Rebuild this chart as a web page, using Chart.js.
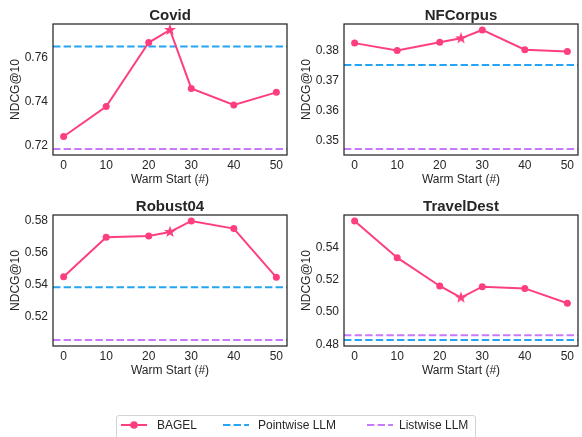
<!DOCTYPE html>
<html>
<head>
<meta charset="utf-8">
<script src="https://cdn.jsdelivr.net/npm/chart.js@4.4.1/dist/chart.umd.min.js"></script>
<style>
  html, body { margin: 0; padding: 0; background: #fff; }
  #wrap { position: relative; width: 582px; height: 437px; overflow: hidden;
          font-family: "Liberation Sans", Arial, sans-serif; color: #262626; }
  canvas { position: absolute; }
  #legendBox { position: absolute; left: 116px; top: 415px; width: 360px; height: 30px;
               border: 1px solid #d4d4d4; border-radius: 3px; box-sizing: border-box; }
  .lg { position: absolute; font-size: 12px; line-height: 14px; top: 418px; white-space: nowrap; color: #262626; }
</style>
</head>
<body>
<div id="wrap">
  <canvas id="c0" width="291" height="190" style="left:0;top:0"></canvas>
  <canvas id="c1" width="291" height="190" style="left:291px;top:0"></canvas>
  <canvas id="c2" width="291" height="191" style="left:0;top:191px"></canvas>
  <canvas id="c3" width="291" height="191" style="left:291px;top:191px"></canvas>
  <div id="legendBox"></div>
  <canvas id="lgc" width="582" height="40" style="left:0;top:405px"></canvas>
  <span class="lg" style="left:157px">BAGEL</span>
  <span class="lg" style="left:258px">Pointwise LLM</span>
  <span class="lg" style="left:399px">Listwise LLM</span>
</div>
<script>
// Warm-start sizes tried for BAGEL; index 3 (25) is the selected setting.
const warmStart = [0, 10, 20, 25, 30, 40, 50];
const xTicks = [0, 10, 20, 30, 40, 50];
const bestIndex = 3;

const datasetNames = ['Covid', 'NFCorpus', 'Robust04', 'TravelDest'];

// NDCG@10 of BAGEL per warm-start size
const bagelCovid      = [0.7242, 0.7378, 0.7668, 0.7725, 0.7460, 0.7385, 0.7442];
const bagelNFCorpus   = [0.3826, 0.3801, 0.3829, 0.3842, 0.3870, 0.3804, 0.3798];
const bagelRobust04   = [0.5450, 0.5698, 0.5706, 0.5731, 0.5800, 0.5752, 0.5446];
const bagelTravelDest = [0.5563, 0.5336, 0.5161, 0.5089, 0.5157, 0.5146, 0.5054];

// Baselines (constant across warm-start sizes)
const pointwiseLLM = [0.7650, 0.3753, 0.5383, 0.4827];
const listwiseLLM  = [0.7185, 0.3472, 0.5052, 0.4856];

// y tick values per panel
const yTicksCovid      = [0.72, 0.74, 0.76];
const yTicksNFCorpus   = [0.35, 0.36, 0.37, 0.38];
const yTicksRobust04   = [0.52, 0.54, 0.56, 0.58];
const yTicksTravelDest = [0.48, 0.50, 0.52, 0.54];

const bagelSeries = [bagelCovid, bagelNFCorpus, bagelRobust04, bagelTravelDest];
const yTickSets = [yTicksCovid, yTicksNFCorpus, yTicksRobust04, yTicksTravelDest];

const PINK = '#fd3f80';
const BLUE = '#24a4f2';
const PURPLE = '#c878fb';
const INK = '#262626';
const FONT = '"Liberation Sans", Arial, sans-serif';
const X_MIN = -2.5, X_MAX = 52.5;

// filled five-pointed star used for the selected warm-start point
function makeStar(size, rOuter, rInner, color) {
  const c = document.createElement('canvas');
  c.width = size; c.height = size;
  const g = c.getContext('2d');
  g.beginPath();
  for (let k = 0; k < 10; k++) {
    const r = k % 2 === 0 ? rOuter : rInner;
    const a = -Math.PI / 2 + k * Math.PI / 5;
    const px = size / 2 + r * Math.cos(a), py = size / 2 + r * Math.sin(a);
    if (k === 0) g.moveTo(px, py); else g.lineTo(px, py);
  }
  g.closePath();
  g.fillStyle = color;
  g.fill();
  return c;
}
const starImg = makeStar(16, 6.3, 2.6, PINK);

// frame, panel title and axis titles
const framePlugin = {
  id: 'frame',
  afterDraw(chart, args, opts) {
    const { ctx, chartArea: a } = chart;
    ctx.save();
    ctx.strokeStyle = INK;
    ctx.lineWidth = 1.25;
    ctx.strokeRect(a.left, a.top, a.right - a.left, a.bottom - a.top);
    ctx.fillStyle = INK;
    ctx.textAlign = 'center';
    ctx.textBaseline = 'alphabetic';
    ctx.font = 'bold 15px ' + FONT;
    ctx.fillText(opts.title, (a.left + a.right) / 2, a.top - 4);
    ctx.font = '12px ' + FONT;
    ctx.textBaseline = 'middle';
    ctx.fillText('Warm Start (#)', (a.left + a.right) / 2, a.bottom + 25);
    ctx.translate(16, (a.top + a.bottom) / 2);
    ctx.rotate(-Math.PI / 2);
    ctx.fillText('NDCG@10', 0, 0);
    ctx.restore();
  }
};

function hline(value, color, label) {
  return {
    label,
    data: [{ x: X_MIN, y: value }, { x: X_MAX, y: value }],
    borderColor: color,
    borderWidth: 2,
    borderDash: [7.4, 3.2],
    pointRadius: 0,
    fill: false,
    order: 2
  };
}

datasetNames.forEach((name, i) => {
  const vals = bagelSeries[i];
  const all = vals.concat([pointwiseLLM[i], listwiseLLM[i]]);
  const lo = Math.min(...all), hi = Math.max(...all);
  const pad = (hi - lo) * 0.05;
  const ticks = yTickSets[i];
  const canvasH = i < 2 ? 190 : 191;

  new Chart(document.getElementById('c' + i), {
    type: 'line',
    data: {
      datasets: [
        hline(pointwiseLLM[i], BLUE, 'Pointwise LLM'),
        hline(listwiseLLM[i], PURPLE, 'Listwise LLM'),
        {
          label: 'BAGEL',
          data: warmStart.map((x, k) => ({ x, y: vals[k] })),
          borderColor: PINK,
          backgroundColor: PINK,
          borderWidth: 2,
          pointStyle: warmStart.map((_, k) => k === bestIndex ? starImg : 'circle'),
          pointRadius: 3.5,
          pointBorderWidth: 0,
          pointBackgroundColor: PINK,
          clip: false,
          order: 1
        }
      ]
    },
    options: {
      responsive: false,
      animation: false,
      devicePixelRatio: 1,
      layout: { padding: { left: 0, right: 2, top: 24, bottom: 0 } },
      plugins: {
        legend: { display: false },
        tooltip: { enabled: false },
        frame: { title: name }
      },
      scales: {
        x: {
          type: 'linear',
          min: X_MIN, max: X_MAX,
          grid: { display: false, drawTicks: false },
          border: { display: false },
          afterBuildTicks: s => { s.ticks = xTicks.map(v => ({ value: v })); },
          afterFit: s => { s.height = canvasH - 24 - 131; },
          ticks: { padding: 3, color: INK, font: { size: 12, family: FONT },
                   maxRotation: 0, callback: v => String(v) }
        },
        y: {
          type: 'linear',
          min: lo - pad, max: hi + pad,
          grid: { display: false, drawTicks: false },
          border: { display: false },
          afterBuildTicks: s => { s.ticks = ticks.map(v => ({ value: v })); },
          afterFit: s => { s.width = 53; },
          ticks: { padding: 5, color: INK, font: { size: 12, family: FONT },
                   callback: v => v.toFixed(2) }
        }
      }
    },
    plugins: [framePlugin]
  });
});

// legend handles
(function () {
  const g = document.getElementById('lgc').getContext('2d');
  const y = 20;
  g.lineWidth = 2;
  g.strokeStyle = PINK;
  g.beginPath(); g.moveTo(121, y); g.lineTo(147, y); g.stroke();
  g.fillStyle = PINK;
  g.beginPath(); g.arc(134, y, 3.8, 0, Math.PI * 2); g.fill();
  g.setLineDash([7.4, 3.2]);
  g.strokeStyle = BLUE;
  g.beginPath(); g.moveTo(223, y); g.lineTo(249, y); g.stroke();
  g.strokeStyle = PURPLE;
  g.beginPath(); g.moveTo(367, y); g.lineTo(393, y); g.stroke();
})();
</script>
</body>
</html>
